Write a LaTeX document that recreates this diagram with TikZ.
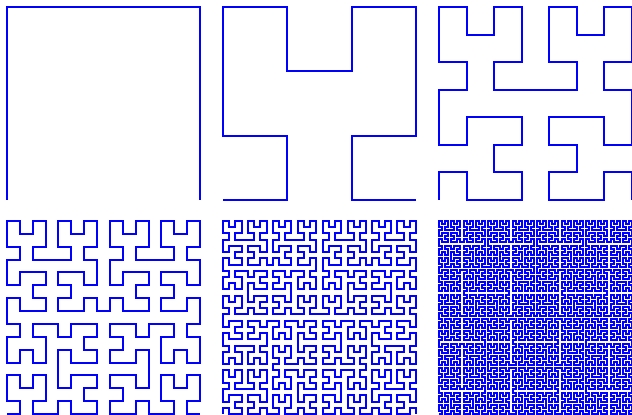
\documentclass[tikz,border=0pt]{standalone}
\usepackage{tikz}
\usetikzlibrary{lindenmayersystems}

% Hilbert-kurve som L-system
\pgfdeclarelindenmayersystem{Hilbert}{
  \rule{L -> +RF-LFL-FR+}
  \rule{R -> -LF+RFR+FL-}
}

\begin{document}
\begin{tikzpicture}[x=1pt, y=1pt]
  \useasboundingbox (0,0) rectangle (632,415);
  % === SEKS PANELER: orden 1 til 6 ===
  \foreach \n/\px/\py in {1/7/215, 2/223/215, 3/439/215, 4/7/1, 5/223/1, 6/439/1} {
    % steglengde slik at kurven fyller 193 x 193
    \pgfmathsetmacro{\hstep}{193/(2^\n-1)}
    \begin{scope}[shift={(\px,\py)}]
      \draw[blue, line width=2pt,
        lindenmayer system={Hilbert, axiom=L, order=\n, step=\hstep pt, angle=90}]
        lindenmayer system;
    \end{scope}
  }
\end{tikzpicture}
\end{document}
